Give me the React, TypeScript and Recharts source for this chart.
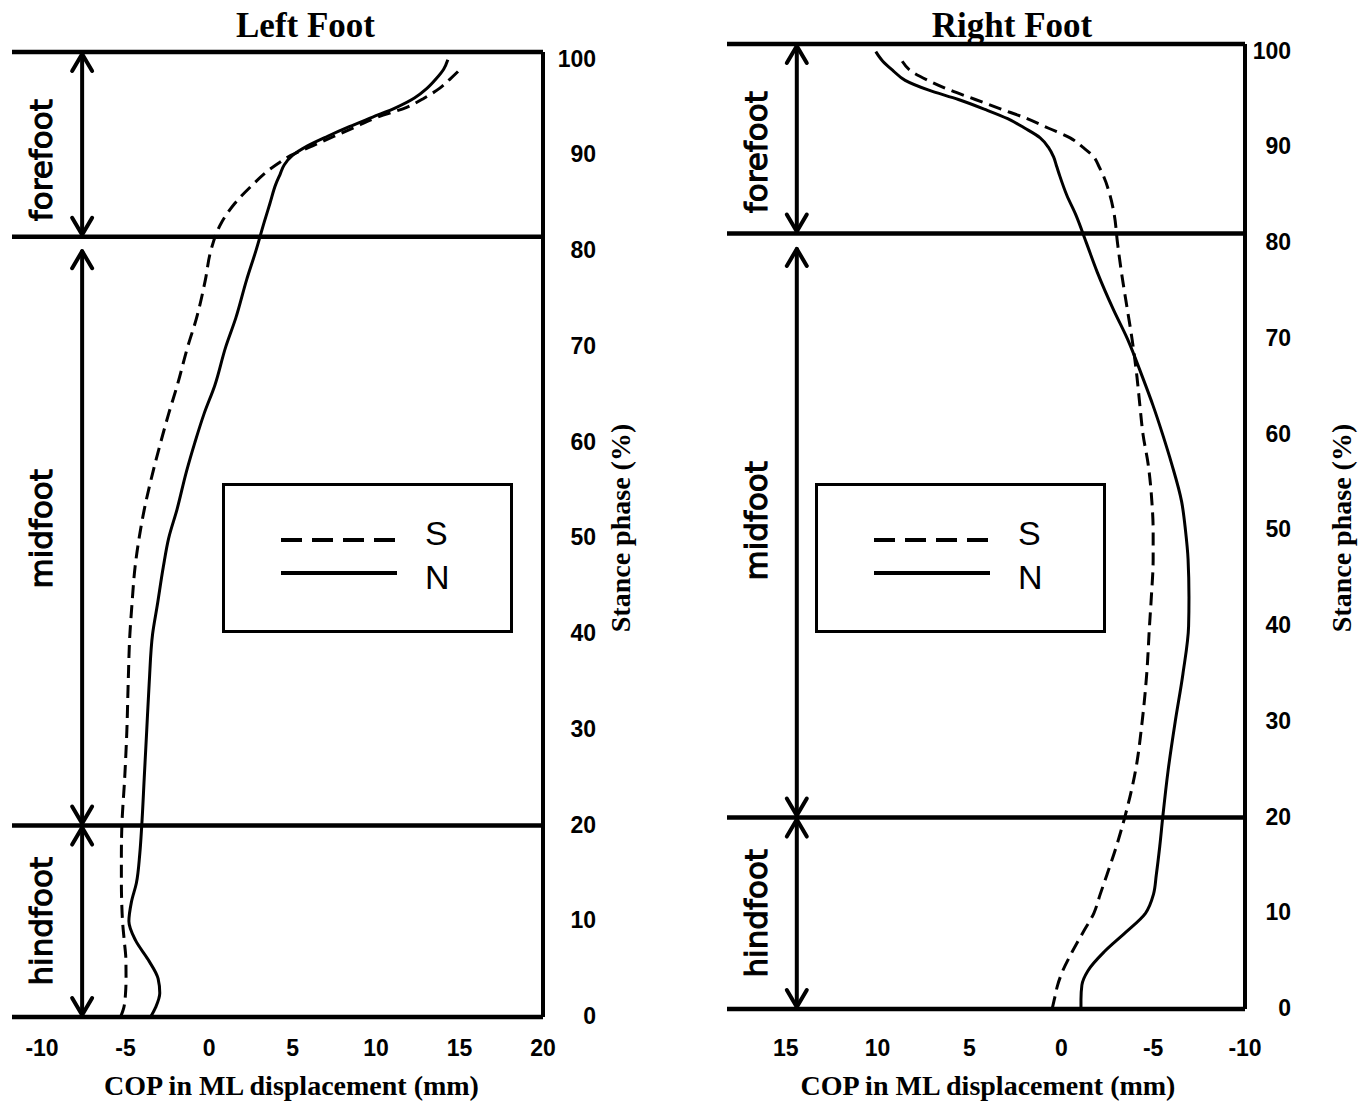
import {
  Label,
  Legend,
  Line,
  LineChart,
  ReferenceDot,
  ReferenceLine,
  XAxis,
  YAxis,
} from "recharts";

// stance phase (%) shared by every curve
const PHASE = [
  0, 1, 2.5, 4, 6, 8, 10, 12, 14, 17, 20, 25, 30, 35, 40, 43, 47, 50, 53, 57,
  60, 63, 66, 70, 73, 77, 80, 83, 85, 87, 88, 89, 90, 91, 92, 93, 94, 95, 96,
  97, 98, 99, 100,
];

// COP in ML displacement (mm)
const LEFT_S = [
  -5.3, -5.1, -5.0, -4.97, -4.98, -5.08, -5.18, -5.23, -5.25, -5.25, -5.22,
  -5.05, -4.92, -4.84, -4.74, -4.62, -4.43, -4.19, -3.88, -3.35, -2.9, -2.42,
  -1.9, -1.28, -0.75, -0.22, 0.1, 0.75, 1.55, 2.65, 3.25, 4.0, 4.9, 6.2, 7.5,
  8.8, 10.1, 11.8, 12.9, 13.8, 14.45, 15.05, null,
];
const LEFT_N = [
  -3.5, -3.2, -2.95, -3.05, -3.65, -4.4, -4.8, -4.65, -4.35, -4.15, -4.03,
  -3.88, -3.73, -3.58, -3.38, -3.1, -2.74, -2.42, -1.92, -1.35, -0.85, -0.3,
  0.35, 1.0, 1.6, 2.25, 2.8, 3.3, 3.65, 4.0, 4.25, 4.5, 5.0, 5.9, 7.1, 8.4,
  9.8, 11.2, 12.3, 13.05, 13.6, 14.05, 14.3,
];
const RIGHT_S = [
  0.5, 0.38, 0.2, -0.08, -0.6, -1.18, -1.77, -2.12, -2.48, -3.0, -3.45, -4.05,
  -4.4, -4.65, -4.8, -4.9, -5.0, -5.0, -4.93, -4.72, -4.45, -4.28, -4.12,
  -3.85, -3.6, -3.27, -3.06, -2.88, -2.65, -2.3, -2.05, -1.77, -1.18, -0.48,
  0.69, 1.86, 3.28, 4.68, 6.08, 7.25, 8.2, 8.66, null,
];
const RIGHT_N = [
  -1.07, -1.07, -1.12, -1.45, -2.35, -3.5, -4.58, -5.02, -5.17, -5.36, -5.52,
  -5.82, -6.2, -6.62, -6.93, -6.95, -6.9, -6.76, -6.55, -6.0, -5.52, -5.0,
  -4.42, -3.6, -2.85, -1.95, -1.37, -0.78, -0.3, 0.08, 0.25, 0.42, 0.7, 1.15,
  1.98, 2.92, 4.2, 5.6, 7.25, 8.5, 9.15, 9.72, 10.1,
];

const SERIES = ["S", "N"];
const X_TICKS_LEFT = [-10, -5, 0, 5, 10, 15, 20];
const X_TICKS_RIGHT = [15, 10, 5, 0, -5, -10];
const Y_TICKS = [0, 10, 20, 30, 40, 50, 60, 70, 80, 90, 100];

// foot regions: boundary lines, arrow spans and label positions (stance %)
const REGIONS = ["hindfoot", "midfoot", "forefoot"];
const LEFT_BOUNDS = [20, 81.5, 100.8];
const RIGHT_BOUNDS = [20, 81, 100.8];
const LEFT_ARROWS = [[0, 20], [20, 80.2], [81.5, 100.8]];
const RIGHT_ARROWS = [[0, 20], [20, 79.6], [81, 100.8]];
const REGION_LABEL_AT = [10, 51, 89.5];

const SANS = "'Liberation Sans', Arial, sans-serif";
const SERIF = "'Liberation Serif', 'Times New Roman', serif";
const LABEL_FONT = "'DejaVu Sans', Verdana, sans-serif";

const makeRows = (s: (number | null)[], n: (number | null)[]) =>
  PHASE.map((phase, i) => ({ phase, S: s[i], N: n[i] }));

const Arrow = (props: any) => {
  const { x1, y1, y2 } = props;
  const top = Math.min(y1, y2) + 2;
  const bottom = Math.max(y1, y2) - 2;
  return (
    <g stroke="#000" strokeWidth={4} fill="none" strokeLinecap="round" strokeLinejoin="round">
      <line x1={x1} y1={top} x2={x1} y2={bottom} />
      <polyline points={`${x1 - 10},${top + 17} ${x1},${top} ${x1 + 10},${top + 17}`} />
      <polyline points={`${x1 - 10},${bottom - 17} ${x1},${bottom} ${x1 + 10},${bottom - 17}`} />
    </g>
  );
};

const makeRegionText = (text: string, dx: number) => (props: any) => {
  const x = props.cx + dx;
  const y = props.cy;
  return (
    <text
      x={x}
      y={y}
      transform={`rotate(-90 ${x} ${y})`}
      textAnchor="middle"
      fontSize={31}
      fontFamily={LABEL_FONT}
      stroke="#000"
      strokeWidth={1.1}
      fill="#000"
    >
      {text}
    </text>
  );
};

const makeYTick = (dx: number) => (props: any) => {
  const { x, y, payload } = props;
  return (
    <text
      x={x + dx}
      y={y + 7}
      textAnchor="end"
      fontSize={23}
      fontWeight={700}
      fontFamily={SANS}
      fill="#000"
    >
      {payload.value}
    </text>
  );
};

const LegendBox = ({ payload }: any) => {
  const items = [...(payload ?? [])].sort(
    (a: any, b: any) => SERIES.indexOf(a.value) - SERIES.indexOf(b.value)
  );
  return (
    <svg width={291} height={150}>
      <rect x={1.5} y={1.5} width={288} height={147} fill="#fff" stroke="#000" strokeWidth={3} />
      {items.map((entry: any, i: number) => (
        <g key={`item-${i}`}>
          <line
            x1={59}
            x2={175}
            y1={57 + i * 33}
            y2={57 + i * 33}
            stroke="#000"
            strokeWidth={4}
            strokeDasharray={entry.payload?.strokeDasharray ? "21 10" : undefined}
          />
          <text x={203} y={62 + i * 44} fontSize={34} fontFamily={SANS} fill="#000">
            {entry.value}
          </text>
        </g>
      ))}
    </svg>
  );
};

type PanelProps = {
  title: string;
  s: (number | null)[];
  n: (number | null)[];
  xDomain: number[];
  xTicks: number[];
  reversed: boolean;
  bounds: number[];
  arrows: number[][];
  arrowX: number;
  width: number;
  margin: { top: number; right: number; bottom: number; left: number };
  xAxisHeight: number;
  tickMargin: number;
  yTickDx: number;
  yTitleDx: number;
  titleDx: number;
  xTitleDx: number;
  legendLeft: number;
};

const FootPanel = (p: PanelProps) => {
  const rows = makeRows(p.s, p.n);
  return (
    <LineChart width={p.width} height={1103} data={rows} layout="vertical" margin={p.margin}>
      <XAxis
        type="number"
        domain={p.xDomain}
        ticks={p.xTicks}
        reversed={p.reversed}
        interval={0}
        height={p.xAxisHeight}
        axisLine={{ stroke: "#000", strokeWidth: 4.5 }}
        tickLine={false}
        tickSize={0}
        tickMargin={p.tickMargin}
        tick={{ fontSize: 23, fontWeight: 700, fill: "#000", fontFamily: SANS }}
      >
        <Label
          content={({ viewBox }: any) => (
            <text
              x={viewBox.x + viewBox.width / 2 + p.xTitleDx}
              y={1095}
              textAnchor="middle"
              fontSize={28}
              fontWeight={700}
              fontFamily={SERIF}
              fill="#000"
            >
              COP in ML displacement (mm)
            </text>
          )}
        />
      </XAxis>
      <YAxis
        type="number"
        dataKey="phase"
        orientation="right"
        reversed
        domain={[0, 100.8]}
        ticks={Y_TICKS}
        interval={0}
        width={80}
        axisLine={{ stroke: "#000", strokeWidth: 4 }}
        tickLine={false}
        tickSize={0}
        tickMargin={0}
        tick={makeYTick(p.yTickDx)}
      >
        <Label
          content={({ viewBox }: any) => {
            const x = viewBox.x + p.yTitleDx;
            const y = 528;
            return (
              <text
                x={x}
                y={y}
                transform={`rotate(-90 ${x} ${y})`}
                textAnchor="middle"
                fontSize={28}
                fontWeight={700}
                fontFamily={SERIF}
                fill="#000"
              >
                Stance phase (%)
              </text>
            );
          }}
        />
      </YAxis>

      {p.bounds.map((b, i) => (
        <ReferenceLine
          key={`bound-${i}`}
          y={b}
          stroke="#000"
          strokeWidth={4.5}
          label={
            i === p.bounds.length - 1
              ? ({ viewBox }: any) => (
                  <text
                    x={viewBox.x + viewBox.width / 2 + p.titleDx}
                    y={37}
                    textAnchor="middle"
                    fontSize={35}
                    fontWeight={700}
                    fontFamily={SERIF}
                    fill="#000"
                  >
                    {p.title}
                  </text>
                )
              : undefined
          }
        />
      ))}

      {p.arrows.map(([from, to], i) => (
        <ReferenceLine
          key={`arrow-${i}`}
          segment={[
            { x: p.arrowX, y: from },
            { x: p.arrowX, y: to },
          ]}
          shape={Arrow}
        />
      ))}

      {REGIONS.map((name, i) => (
        <ReferenceDot
          key={name}
          x={p.arrowX}
          y={REGION_LABEL_AT[i]}
          shape={makeRegionText(name, -30)}
        />
      ))}

      <Line
        dataKey="S"
        name="S"
        type="monotone"
        stroke="#000"
        strokeWidth={3}
        strokeDasharray="13 7"
        dot={false}
        activeDot={false}
        isAnimationActive={false}
      />
      <Line
        dataKey="N"
        name="N"
        type="monotone"
        stroke="#000"
        strokeWidth={3}
        dot={false}
        activeDot={false}
        isAnimationActive={false}
      />

      <Legend
        layout="horizontal"
        align="center"
        verticalAlign="middle"
        content={LegendBox}
        wrapperStyle={{ left: p.legendLeft, top: 483, width: 291, height: 150 }}
      />
    </LineChart>
  );
};

export default function App() {
  return (
    <div
      style={{
        position: "absolute",
        left: 0,
        top: 0,
        width: 1369,
        height: 1103,
        background: "#fff",
      }}
    >
      <div style={{ position: "absolute", left: 0, top: 0 }}>
        <FootPanel
          title="Left Foot"
          s={LEFT_S}
          n={LEFT_N}
          xDomain={[-11.8, 20]}
          xTicks={X_TICKS_LEFT}
          reversed={false}
          bounds={LEFT_BOUNDS}
          arrows={LEFT_ARROWS}
          arrowX={-7.6}
          width={660}
          margin={{ top: 52, right: 37, bottom: 0, left: 12 }}
          xAxisHeight={86}
          tickMargin={23}
          yTickDx={53}
          yTitleDx={87}
          titleDx={28}
          xTitleDx={14}
          legendLeft={222}
        />
      </div>
      <div style={{ position: "absolute", left: 700, top: 0 }}>
        <FootPanel
          title="Right Foot"
          s={RIGHT_S}
          n={RIGHT_N}
          xDomain={[-10, 18.2]}
          xTicks={X_TICKS_RIGHT}
          reversed={true}
          bounds={RIGHT_BOUNDS}
          arrows={RIGHT_ARROWS}
          arrowX={14.4}
          width={669}
          margin={{ top: 44, right: 44, bottom: 0, left: 27 }}
          xAxisHeight={94}
          tickMargin={31}
          yTickDx={46}
          yTitleDx={106}
          titleDx={26}
          xTitleDx={2}
          legendLeft={115}
        />
      </div>
    </div>
  );
}
